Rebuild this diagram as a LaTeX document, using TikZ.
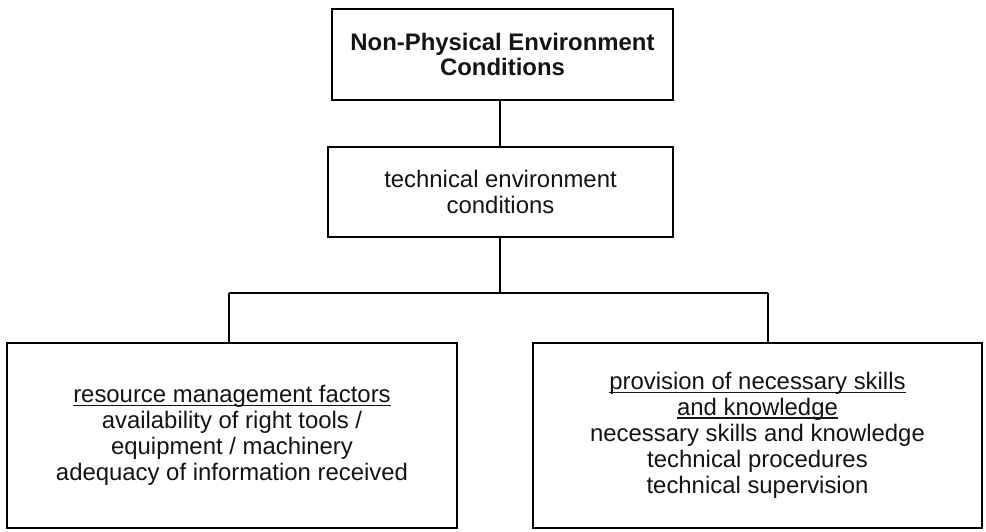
\documentclass[tikz,border=0pt]{standalone}
\usepackage{fontspec}
\setmainfont{Liberation Sans}
\newcommand\undr[1]{\setbox0\hbox{#1}\rlap{\rule[-3pt]{\wd0}{1.3pt}}\box0}
\begin{document}
\begin{tikzpicture}[x=1pt,y=-1pt,
  box/.style={draw=black, line width=2pt, align=center, inner sep=0pt,
    font=\fontsize{23.9}{25.9}\selectfont, text=black!92},
  link/.style={draw=black, line width=1.8pt}]
\useasboundingbox (0,0) rectangle (986,531);
\fill[white] (0,0) rectangle (986,531);

\node[box, minimum width=341pt, minimum height=91pt] (top) at (502.5,54.5)
  {\textbf{Non-Physical Environment}\\\textbf{Conditions}};
\node[box, minimum width=345pt, minimum height=90pt] (mid) at (500.5,192)
  {technical environment\\conditions};
\node[box, minimum width=450pt, minimum height=185pt] (left) at (232,435.5)
  {\undr{resource management factors}\\availability of right tools /\\equipment / machinery\\adequacy of information received};
\node[box, minimum width=449pt, minimum height=185pt] (right) at (757.5,435.5)
  {\undr{provision of necessary skills}\\\undr{and knowledge}\\necessary skills and knowledge\\technical procedures\\technical supervision};

\coordinate (jl) at (229,293);
\coordinate (jr) at (768,293);
\draw[link] (mid.north -| 500,0) -- (top.south -| 500,0);
\draw[link] (mid.south -| 500,0) -- (500,293);
\draw[link] (jl) -- (jr);
\draw[link] (jl) -- (jl |- left.north);
\draw[link] (jr) -- (jr |- right.north);
\end{tikzpicture}
\end{document}
